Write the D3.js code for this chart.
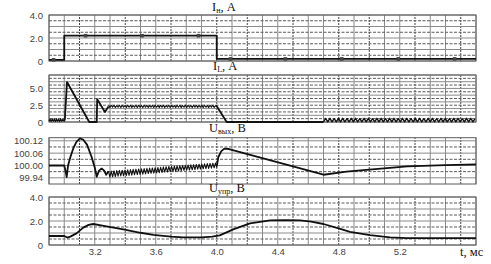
<!DOCTYPE html>
<head>
  <meta charset="utf-8">
  <script src="https://d3js.org/d3.v7.min.js"></script>
  <style>
    body { margin:0; background:#fff; }
    .tick text { font-family: "Liberation Sans", Arial, sans-serif; font-size: 9.5px; fill: #444; }
    .title { font-family: "Liberation Serif", "Times New Roman", serif; font-size: 12.5px; fill: #111; }
  </style>
</head>
<body>
<script>
// data
var timeLabels = [3.2, 3.6, 4.0, 4.4, 4.8, 5.2];
var dashedT = [3.1, 3.4, 3.7, 4.0, 4.2, 4.5, 4.8, 5.0, 5.3, 5.6];

// I_н, A
var inTicks = [0, 2, 4];
var inLine = [[2.9,0.1],[3.0,0.1],[3.0,2.2],[4.0,2.2],[4.0,0.18],[5.7,0.18]];
var inMarks = [[2.93,0.1],[3.14,2.2],[3.51,2.2],[3.88,2.2],[4.09,0.18],[4.45,0.18],[4.82,0.18],[5.19,0.18],[5.56,0.18]];

// I_L, A
var ilTicks = [0, 2.5, 5.0];
var ilStartT0 = 2.9, ilStartDt = 0.007;
var ilStart = [0.1,0.45,0.05,0.5,0.1,0.45,0.05,0.5,0.1,0.45,0.05,0.5,0.1,0.45,0.1];
var ilPulse = [[2.998,0.1],[3.004,0.4],[3.018,5.95],[3.164,0],[3.213,0],[3.216,3.4],[3.267,1.5],[3.29,2.3]];
var ilRipT0 = 3.29, ilRipDt = 0.009;
var ilRip = [2.45,2.15,2.5,2.2,2.5,2.15,2.45,2.2,2.5,2.15,2.5,2.2,2.45,2.15,2.5,2.2,2.5,2.15,2.45,2.2,
  2.5,2.15,2.5,2.2,2.45,2.15,2.5,2.2,2.5,2.15,2.45,2.2,2.5,2.15,2.5,2.2,2.45,2.15,2.5,2.2,
  2.5,2.15,2.45,2.2,2.5,2.15,2.5,2.2,2.45,2.15,2.5,2.2,2.5,2.15,2.45,2.2,2.5,2.15,2.5,2.2,
  2.45,2.15,2.5,2.2,2.5,2.15,2.45,2.2,2.5,2.15,2.5,2.2,2.45,2.15,2.5,2.2,2.5,2.15,2.45];
var ilFall = [[3.992,2.45],[4.0,2.35],[4.065,0],[4.7,0]];
var ilTailT0 = 4.7, ilTailDt = 0.014;
var ilTail = [0,0.55,0.02,0.55,0.02,0.5,0.02,0.55,0.02,0.55,0.02,0.5,0.02,0.55,0.02,0.55,0.02,0.5,
  0.02,0.55,0.02,0.55,0.02,0.5,0.02,0.55,0.02,0.55,0.02,0.5,0.02,0.55,0.02,0.55,0.02,0.5,
  0.02,0.55,0.02,0.55,0.02,0.5,0.02,0.55,0.02,0.55,0.02,0.5,0.02,0.55,0.02,0.55,0.02,0.5,
  0.02,0.55,0.02,0.55,0.02,0.5,0.02,0.55,0.02,0.55,0.02,0.5,0.02,0.55,0.02,0.55,0.02,0.5];

// U_вых, B
var uoTicks = [99.94, 100.00, 100.06, 100.12];
var uoGrid = [99.94, 99.97, 100.00, 100.03, 100.06, 100.09, 100.12];
var uoA = [[2.9,100.0],[3.0,100.0],[3.008,99.975],[3.016,99.944],[3.025,100.0],[3.04,100.04],[3.06,100.085],
  [3.08,100.115],[3.103,100.132],[3.125,100.125],[3.15,100.1],[3.18,100.04],[3.2,99.99],[3.213,99.945],
  [3.228,99.975],[3.245,99.985],[3.262,99.975],[3.275,99.955],[3.29,99.972]];
var uoRipT0 = 3.29, uoRipDt = 0.009;
var uoRip = [99.972,99.944,99.973,99.945,99.974,99.946,99.975,99.948,99.976,99.949,99.977,99.950,
  99.978,99.951,99.979,99.952,99.980,99.953,99.981,99.955,99.982,99.956,99.983,99.957,99.984,99.958,
  99.985,99.959,99.986,99.961,99.987,99.962,99.988,99.963,99.989,99.964,99.990,99.965,99.991,99.966,
  99.993,99.968,99.994,99.969,99.995,99.970,99.996,99.971,99.997,99.972,99.998,99.973,99.999,99.975,
  100.000,99.976,100.001,99.977,100.002,99.978,100.003,99.979,100.004,99.980,100.005,99.982,
  100.006,99.983,100.007,99.984,100.008,99.985,100.009,99.986,100.010,99.987,100.011,99.989,100.012,99.990];
var uoB = [[4.0,99.995],[4.01,100.04],[4.03,100.07],[4.05,100.082],[4.08,100.08],[4.7,99.955],
  [4.85,99.97],[5.0,99.98],[5.25,99.996],[5.5,100.002],[5.7,100.005]];

// U_упр, B
var ucTicks = [0, 2, 4];
var ucLine = [[2.9,0.75],[3.0,0.75],[3.02,0.62],[3.04,0.7],[3.08,0.97],[3.125,1.45],[3.16,1.68],[3.19,1.75],
  [3.25,1.62],[3.387,1.3],[3.5,1.02],[3.584,0.85],[3.7,0.7],[3.78,0.64],[3.9,0.63],[3.97,0.7],[4.02,0.8],
  [4.108,1.3],[4.218,1.8],[4.35,2.05],[4.45,2.08],[4.546,2.05],[4.62,1.95],[4.7,1.75],[4.81,1.35],
  [4.874,1.1],[5.005,0.83],[5.136,0.64],[5.245,0.57],[5.4,0.57],[5.7,0.57]];

function sampled(t0, dt, vals) {
  return vals.map(function(v, i) { return [t0 + i * dt, v]; });
}

var w = 491, h = 264;
var svg = d3.select("body").append("svg").attr("width", w).attr("height", h);

var x = d3.scaleLinear().domain([2.9, 5.7]).range([49, 476]);

var panels = [
  { y: d3.scaleLinear().domain([0, 4]).range([61, 15]), grid: d3.range(0, 4.01, 0.5), ticks: inTicks,
    fmt: function(d) { return d === 0 ? "0" : d.toFixed(1); }, name: "I", sub: "н", unit: ", А", tx: 212, ty: 11 },
  { y: d3.scaleLinear().domain([0, 7]).range([122, 75]), grid: d3.range(0, 7.01, 0.5), ticks: ilTicks,
    fmt: function(d) { return d === 0 ? "0" : d.toFixed(1); }, name: "I", sub: "L", unit: ", А", tx: 213, ty: 70 },
  { y: d3.scaleLinear().domain([99.91, 100.135]).range([184, 137.7]), grid: uoGrid, ticks: uoTicks,
    fmt: function(d) { return d.toFixed(2); }, name: "U", sub: "вых", unit: ", В", tx: 209, ty: 132 },
  { y: d3.scaleLinear().domain([0, 4]).range([245, 197]), grid: d3.range(0, 4.01, 0.5), ticks: ucTicks,
    fmt: function(d) { return d === 0 ? "0" : d.toFixed(1); }, name: "U", sub: "упр", unit: ", В", tx: 209, ty: 192 }
];

var line = function(p) {
  return d3.line().x(function(d) { return x(d[0]); }).y(function(d) { return p.y(d[1]); });
};

panels.forEach(function(p, k) {
  var g = svg.append("g");
  var y0 = p.y.range()[0], y1 = p.y.range()[1];
  var isDashed = function(d) { return dashedT.some(function(t) { return Math.abs(t - d) < 1e-6; }); };
  // vertical grid
  g.selectAll(".vg").data(x.ticks(28)).enter().append("line")
    .attr("x1", function(d) { return x(d); }).attr("x2", function(d) { return x(d); })
    .attr("y1", y0).attr("y2", y1)
    .attr("stroke", function(d) { return isDashed(d) ? "#444" : "#8a8a8a"; })
    .attr("stroke-dasharray", function(d) { return isDashed(d) ? "2,1" : null; })
    .attr("stroke-width", 1);
  // horizontal grid
  g.selectAll(".hg").data(p.grid).enter().append("line")
    .attr("x1", x.range()[0]).attr("x2", x.range()[1])
    .attr("y1", function(d) { return p.y(d); }).attr("y2", function(d) { return p.y(d); })
    .attr("stroke", function(d, i) { return i % 2 ? "#5a5a5a" : "#8a8a8a"; })
    .attr("stroke-dasharray", function(d, i) { return i % 2 ? "3,1.5" : null; });
  // frame
  g.append("rect").attr("x", x.range()[0]).attr("y", y1)
    .attr("width", x.range()[1] - x.range()[0]).attr("height", y0 - y1)
    .attr("fill", "none").attr("stroke", "#5a5a5a");
  // y axis labels
  var ax = d3.axisLeft(p.y).tickValues(p.ticks).tickFormat(p.fmt).tickSize(0).tickPadding(6);
  var ag = g.append("g").attr("transform", "translate(" + x.range()[0] + ",0)").call(ax);
  ag.select(".domain").remove();
  // title
  var t = svg.append("text").attr("class", "title").attr("x", p.tx).attr("y", p.ty);
  t.append("tspan").text(p.name);
  t.append("tspan").attr("font-size", "8px").attr("dy", 2).text(p.sub);
  t.append("tspan").attr("dy", -2).text(p.unit);
  p.g = g;
});

function draw(p, data, sw) {
  p.g.append("path").datum(data).attr("d", line(p)).attr("fill", "none")
    .attr("stroke", "#111").attr("stroke-width", sw).attr("stroke-linejoin", "round");
}

// I_н
draw(panels[0], inLine, 1.8);
panels[0].g.selectAll(".mk").data(inMarks).enter().append("rect")
  .attr("x", function(d) { return x(d[0]) - 1.8; }).attr("y", function(d) { return panels[0].y(d[1]) - 1.8; })
  .attr("width", 3.6).attr("height", 3.6).attr("fill", "#444");

// I_L
draw(panels[1], sampled(ilStartT0, ilStartDt, ilStart), 1.1);
draw(panels[1], ilPulse, 1.8);
draw(panels[1], sampled(ilRipT0, ilRipDt, ilRip), 1.1);
draw(panels[1], ilFall, 1.8);
draw(panels[1], sampled(ilTailT0, ilTailDt, ilTail), 1.3);

// U_вых
draw(panels[2], uoA, 1.8);
draw(panels[2], sampled(uoRipT0, uoRipDt, uoRip), 1.1);
draw(panels[2], uoB, 1.8);

// U_упр
draw(panels[3], ucLine, 1.8);

// time axis
var xa = d3.axisBottom(x).tickValues(timeLabels).tickFormat(d3.format(".1f")).tickSize(0).tickPadding(3);
var xg = svg.append("g").attr("transform", "translate(0,245)").call(xa);
xg.select(".domain").remove();
svg.append("text").attr("class", "title").attr("x", 460).attr("y", 256).attr("font-size", "11px").text("t, мс");
</script>
</body>
